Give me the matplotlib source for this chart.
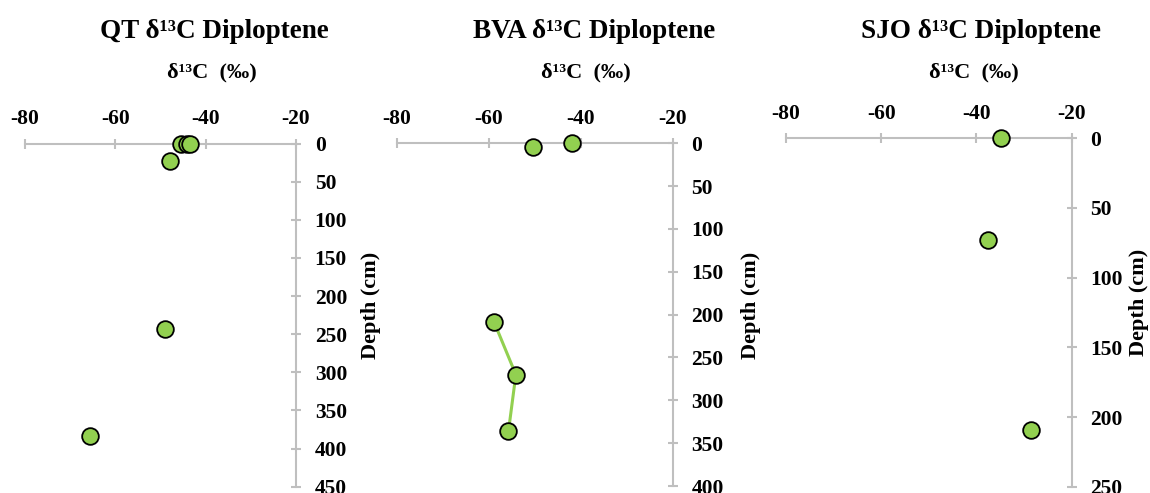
#!/usr/bin/env python3

import matplotlib
matplotlib.use("Agg")
import matplotlib.pyplot as plt

# QT core
qt_d13c = [-45.5, -44.2, -43.4, -48.0, -48.9, -65.7]
qt_depth = [1, 1, 1, 23, 243, 384]

# BVA core: two surface points, then a connected deeper profile
bva_top_d13c = [-50.4, -42.0]
bva_top_depth = [4, 0]
bva_deep_d13c = [-58.8, -54.1, -55.7]
bva_deep_depth = [209, 270, 336]

# SJO core
sjo_d13c = [-34.9, -37.5, -28.6]
sjo_depth = [0, 73, 209]

x_ticks = [-80, -60, -40, -20]

plt.rcParams["font.family"] = ["Liberation Serif", "DejaVu Serif"]
plt.rcParams["font.weight"] = "bold"
plt.rcParams["axes.unicode_minus"] = False

W, H = 1150, 493
green = "#92D050"
grey = "#BFBFBF"


def px_axes(fig, left, right, top, bottom):
    return fig.add_axes([left / W, 1 - bottom / H, (right - left) / W, (bottom - top) / H])


def style_axes(ax, ymax, ystep):
    ax.set_xlim(-80, -20)
    ax.set_ylim(ymax, 0)
    ax.set_xticks(x_ticks)
    ax.set_yticks(range(0, ymax + 1, ystep))
    for side in ("left", "bottom"):
        ax.spines[side].set_visible(False)
    for side in ("top", "right"):
        ax.spines[side].set_color(grey)
        ax.spines[side].set_linewidth(1.5)
    ax.xaxis.tick_top()
    ax.yaxis.tick_right()
    ax.tick_params(axis="x", direction="inout", length=7, width=1.5, color=grey,
                   pad=7, labelsize=15.5)
    ax.tick_params(axis="y", direction="inout", length=7, width=1.5, color=grey,
                   pad=10, labelsize=15.5)
    for lab in ax.get_xticklabels() + ax.get_yticklabels():
        lab.set_fontweight("bold")


def dots(ax, x, y, line=False):
    ax.plot(x, y, linestyle="-" if line else "none", color=green, linewidth=2.2,
            marker="o", markersize=12, markerfacecolor=green,
            markeredgecolor="black", markeredgewidth=1.3, clip_on=False, zorder=3)


fig = plt.figure(figsize=(W / 100, H / 100), dpi=100)

ax1 = px_axes(fig, 25, 296, 143.5, 486.7)
style_axes(ax1, 450, 50)
dots(ax1, qt_d13c, qt_depth)

ax2 = px_axes(fig, 396.7, 672.7, 143.3, 486)
style_axes(ax2, 400, 50)
dots(ax2, bva_top_d13c, bva_top_depth)
dots(ax2, bva_deep_d13c, bva_deep_depth, line=True)

ax3 = px_axes(fig, 786, 1071.7, 138.3, 486.7)
style_axes(ax3, 250, 50)
dots(ax3, sjo_d13c, sjo_depth)

titles = ["QT δ¹³C Diploptene", "BVA δ¹³C Diploptene", "SJO δ¹³C Diploptene"]
title_x = [214, 594, 981]
xlabel_x = [212, 586, 974]
ylabel_x = [371, 751, 1139]
ylabel_y = [305, 305, 302]
for t, tx, lx, yx, yy in zip(titles, title_x, xlabel_x, ylabel_x, ylabel_y):
    fig.text(tx / W, 1 - 31 / H, t, ha="center", va="center",
             fontsize=19.5, fontweight="bold")
    fig.text(lx / W, 1 - 72 / H, "δ¹³C  (‰)", ha="center", va="center",
             fontsize=16, fontweight="bold")
    fig.text(yx / W, 1 - yy / H, "Depth (cm)", ha="center", va="center",
             rotation=90, fontsize=16, fontweight="bold")

fig.savefig("out.png", dpi=100)
